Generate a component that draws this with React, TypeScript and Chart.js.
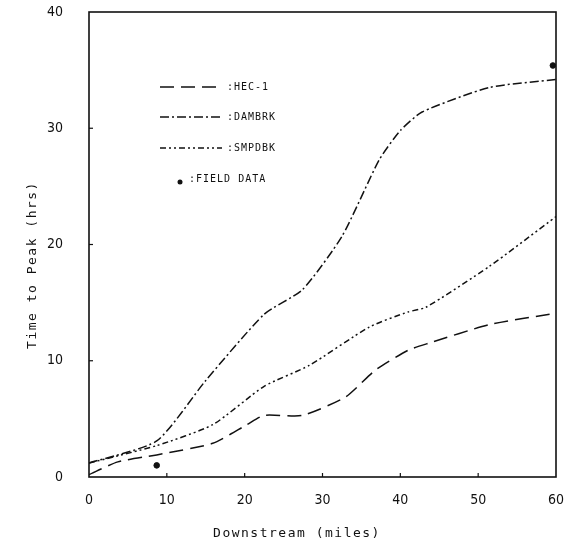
import React, { useEffect, useRef } from "react";
import { Chart, registerables } from "chart.js";
Chart.register(...registerables);

// ---- data ----
const hecMiles = [0, 3.7, 8.7, 15.9, 20.3, 22.5, 27.4, 33, 36.8, 41, 43.6, 51.4, 60];
const hecHours = [0.2, 1.3, 1.9, 2.9, 4.5, 5.3, 5.3, 6.9, 9.2, 10.9, 11.5, 13.1, 14.1];
const dambrkMiles = [0, 8.7, 15, 22.5, 27.4, 32.5, 37.3, 40, 42.8, 51.4, 60];
const dambrkHours = [1.2, 3.1, 8.3, 14.0, 16.1, 20.7, 27.3, 29.8, 31.4, 33.5, 34.2];
const smpdbkMiles = [0, 8.7, 15.9, 22.5, 28.3, 36, 41, 43.3, 51.4, 60];
const smpdbkHours = [1.2, 2.7, 4.5, 7.8, 9.6, 12.9, 14.2, 14.6, 18.1, 22.4];
const fieldMiles = [8.7, 59.6];
const fieldHours = [1.0, 35.4];
const xTicks = [0, 10, 20, 30, 40, 50, 60];
const yTicks = [0, 10, 20, 30, 40];
const legendLabels = [":HEC-1", ":DAMBRK", ":SMPDBK", ":FIELD DATA"];
const xTitle = "Downstream (miles)";
const yTitle = "Time to Peak (hrs)";

const INK = "#111111";
const TICK_FONT = "'Liberation Sans Narrow', 'DejaVu Sans Condensed', sans-serif";
const MONO = "'DejaVu Sans Mono', monospace";

const dashHEC = [14, 7];
const dashDAM = [9, 3, 2, 3];
const dashSMP = [6, 3, 2, 3, 2, 3];

const pts = (xs: number[], ys: number[]) => xs.map((x, i) => ({ x, y: ys[i] }));

const decorPlugin = {
  id: "decor",
  afterDraw(chart: any) {
    const { ctx, chartArea: a, scales } = chart;
    ctx.save();
    // frame
    ctx.strokeStyle = INK;
    ctx.lineWidth = 1.6;
    ctx.setLineDash([]);
    ctx.strokeRect(a.left, a.top, a.right - a.left, a.bottom - a.top);
    // inner tick marks
    ctx.lineWidth = 1.2;
    xTicks.slice(1, -1).forEach((v) => {
      const px = scales.x.getPixelForValue(v);
      ctx.beginPath();
      ctx.moveTo(px, a.bottom);
      ctx.lineTo(px, a.bottom - 4);
      ctx.stroke();
    });
    yTicks.slice(1, -1).forEach((v) => {
      const py = scales.y.getPixelForValue(v);
      ctx.beginPath();
      ctx.moveTo(a.left, py);
      ctx.lineTo(a.left + 4, py);
      ctx.stroke();
    });

    // legend
    const ds = chart.data.datasets;
    ctx.font = `10px ${MONO}`;
    (ctx as any).letterSpacing = "1px";
    ctx.fillStyle = INK;
    ctx.textBaseline = "middle";
    const lineRows = [75, 105, 136];
    for (let i = 0; i < 3; i++) {
      const y = a.top + lineRows[i];
      ctx.beginPath();
      ctx.setLineDash(ds[i].borderDash);
      ctx.lineWidth = 1.5;
      ctx.moveTo(a.left + 71, y);
      ctx.lineTo(a.left + 133, y);
      ctx.stroke();
      ctx.setLineDash([]);
      ctx.fillText(legendLabels[i], a.left + 138, y);
    }
    const fy = a.top + 167;
    ctx.beginPath();
    ctx.arc(a.left + 91, fy + 3, 2.5, 0, Math.PI * 2);
    ctx.fill();
    ctx.fillText(legendLabels[3], a.left + 100, fy);

    // axis titles
    ctx.font = `13px ${MONO}`;
    (ctx as any).letterSpacing = "1.5px";
    ctx.textAlign = "center";
    ctx.textBaseline = "middle";
    ctx.fillText(xTitle, a.left + 208, a.bottom + 57);
    ctx.save();
    ctx.translate(33, a.top + 253);
    ctx.rotate(-Math.PI / 2);
    ctx.fillText(yTitle, 0, 0);
    ctx.restore();
    ctx.restore();
  },
};

export default function App() {
  const ref = useRef<HTMLCanvasElement | null>(null);
  useEffect(() => {
    if (!ref.current) return;
    const chart = new Chart(ref.current, {
      type: "scatter",
      data: {
        datasets: [
          {
            label: "HEC-1",
            data: pts(hecMiles, hecHours),
            showLine: true,
            borderColor: INK,
            borderWidth: 1.5,
            borderDash: dashHEC,
            pointRadius: 0,
            tension: 0.2,
          },
          {
            label: "DAMBRK",
            data: pts(dambrkMiles, dambrkHours),
            showLine: true,
            borderColor: INK,
            borderWidth: 1.5,
            borderDash: dashDAM,
            pointRadius: 0,
            tension: 0.2,
          },
          {
            label: "SMPDBK",
            data: pts(smpdbkMiles, smpdbkHours),
            showLine: true,
            borderColor: INK,
            borderWidth: 1.5,
            borderDash: dashSMP,
            pointRadius: 0,
            tension: 0.2,
          },
          {
            label: "FIELD DATA",
            data: pts(fieldMiles, fieldHours),
            showLine: false,
            backgroundColor: INK,
            borderColor: INK,
            pointRadius: 2.8,
          },
        ],
      } as any,
      options: {
        responsive: false,
        animation: false,
        layout: { padding: { top: 12, right: 12, left: 0, bottom: 0 } },
        plugins: { legend: { display: false }, tooltip: { enabled: false } },
        scales: {
          x: {
            type: "linear",
            min: 0,
            max: 60,
            afterFit: (s: any) => {
              s.height = 73;
              s.paddingLeft = 0;
              s.paddingRight = 0;
              s.paddingTop = 0;
              s.paddingBottom = 0;
            },
            afterBuildTicks: (s: any) => {
              s.ticks = xTicks.map((v) => ({ value: v }));
            },
            grid: { display: false },
            border: { display: false },
            ticks: {
              color: INK,
              padding: 7,
              maxRotation: 0,
              font: { family: TICK_FONT, size: 14 },
            },
          },
          y: {
            type: "linear",
            min: 0,
            max: 40,
            afterFit: (s: any) => {
              s.width = 89;
              s.paddingLeft = 0;
              s.paddingRight = 0;
              s.paddingTop = 0;
              s.paddingBottom = 0;
            },
            afterBuildTicks: (s: any) => {
              s.ticks = yTicks.map((v) => ({ value: v }));
            },
            grid: { display: false },
            border: { display: false },
            ticks: {
              color: INK,
              padding: 18,
              font: { family: TICK_FONT, size: 14 },
            },
          },
        },
      } as any,
      plugins: [decorPlugin],
    });
    return () => chart.destroy();
  }, []);
  return (
    <div style={{ position: "fixed", left: 0, top: 0, width: 568, height: 550, background: "#fff" }}>
      <canvas ref={ref} width={568} height={550} style={{ display: "block" }} />
    </div>
  );
}
